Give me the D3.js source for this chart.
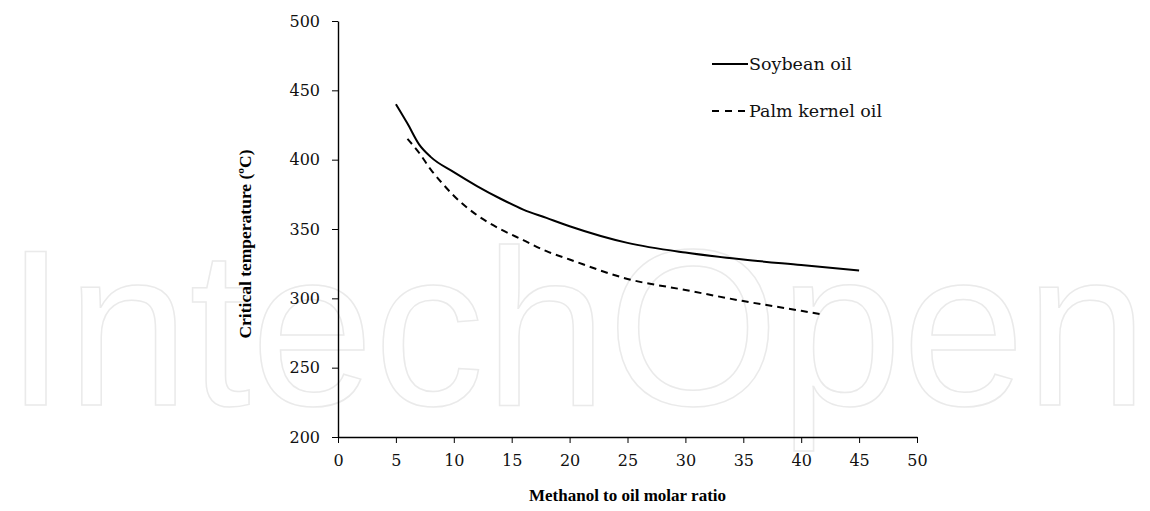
<!DOCTYPE html>
<html>
<head>
<meta charset="utf-8">
<script src="https://cdn.jsdelivr.net/npm/d3@7"></script>
<style>
  html, body { margin: 0; padding: 0; background: #fff; }
  svg { display: block; }
  .serif { font-family: "DejaVu Serif", serif; }
  .serifb { font-family: "Liberation Serif", "Times New Roman", serif; font-weight: bold; }
</style>
</head>
<body>
<svg id="chart" width="1150" height="511"></svg>
<script>
// ---- data ----
const soyX = [5, 6, 7, 8, 10, 12, 14, 16, 18, 20, 25, 30, 35, 40, 45];
const soyY = [440, 426, 411, 402, 391, 381, 372, 364, 358, 352, 340, 333, 328, 324, 320];
const palmX = [6, 7, 8, 9, 10, 12, 14, 16, 18, 20, 25, 30, 35, 40, 42];
const palmY = [415, 405, 393, 383, 374, 360, 350, 342, 334, 328, 314, 306, 298, 291, 288];
const xTicks = [0, 5, 10, 15, 20, 25, 30, 35, 40, 45, 50];
const yTicks = [200, 250, 300, 350, 400, 450, 500];
const seriesNames = ["Soybean oil", "Palm kernel oil"];
const xTitle = "Methanol to oil molar ratio";
const yTitle = "Critical temperature (ºC)";
const watermark = "IntechOpen";

// ---- layout ----
const svg = d3.select("#chart");
const pL = 338, pR = 917, pT = 21, pB = 437;
const x = d3.scaleLinear().domain([0, 50]).range([pL, pR]);
const y = d3.scaleLinear().domain([200, 500]).range([pB, pT]);

// watermark
svg.append("text")
  .attr("x", 5).attr("y", 405)
  .attr("textLength", 1143).attr("lengthAdjust", "spacingAndGlyphs")
  .attr("font-family", "Liberation Sans, Arial, sans-serif")
  .attr("font-size", 223)
  .attr("fill", "none")
  .attr("stroke", "#eaeaea")
  .attr("stroke-width", 1.5)
  .text(watermark);

// axes
const xAxis = d3.axisBottom(x).tickValues(xTicks).tickSize(6).tickSizeOuter(0).tickPadding(12);
const yAxis = d3.axisLeft(y).tickValues(yTicks).tickSize(6).tickSizeOuter(0).tickPadding(12);

const gx = svg.append("g").attr("transform", `translate(0,${pB})`).call(xAxis);
const gy = svg.append("g").attr("transform", `translate(${pL},0)`).call(yAxis);
[gx, gy].forEach(g => {
  g.attr("font-family", null).attr("font-size", null).classed("serif", true);
  g.select(".domain").attr("stroke", "#000").attr("stroke-width", 1.4);
  g.selectAll(".tick line").attr("stroke", "#000").attr("stroke-width", 1);
  g.selectAll(".tick text").attr("font-size", 16).attr("fill", "#111");
});
gx.selectAll(".tick text").attr("dy", "0.71em");

// titles
svg.append("text").classed("serifb", true)
  .attr("x", (pL + pR) / 2).attr("y", 501)
  .attr("text-anchor", "middle")
  .attr("font-size", 17)
  .text(xTitle);
svg.append("text").classed("serifb", true)
  .attr("transform", `translate(251,${(pT + pB) / 2 + 15}) rotate(-90)`)
  .attr("text-anchor", "middle")
  .attr("font-size", 17.5)
  .text(yTitle);

// lines
const line = d3.line().x(d => x(d[0])).y(d => y(d[1])).curve(d3.curveMonotoneX);
const soy = soyX.map((v, i) => [v, soyY[i]]);
const palm = palmX.map((v, i) => [v, palmY[i]]);

svg.append("path").datum(soy).attr("d", line)
  .attr("fill", "none").attr("stroke", "#000").attr("stroke-width", 2);
svg.append("path").datum(palm).attr("d", line)
  .attr("fill", "none").attr("stroke", "#000").attr("stroke-width", 2)
  .attr("stroke-dasharray", "7,5");

// legend
const legend = [
  { name: seriesNames[0], dash: null, yy: 64, x2: 748 },
  { name: seriesNames[1], dash: "7,6", yy: 111, x2: 745 }
];
legend.forEach(l => {
  svg.append("line").attr("x1", 712).attr("x2", l.x2).attr("y1", l.yy).attr("y2", l.yy)
    .attr("stroke", "#000").attr("stroke-width", 2)
    .attr("stroke-dasharray", l.dash);
  svg.append("text").classed("serif", true).attr("x", 749).attr("y", l.yy + 6)
    .attr("font-size", 17.5).attr("fill", "#111")
    .text(l.name);
});
</script>
</body>
</html>
